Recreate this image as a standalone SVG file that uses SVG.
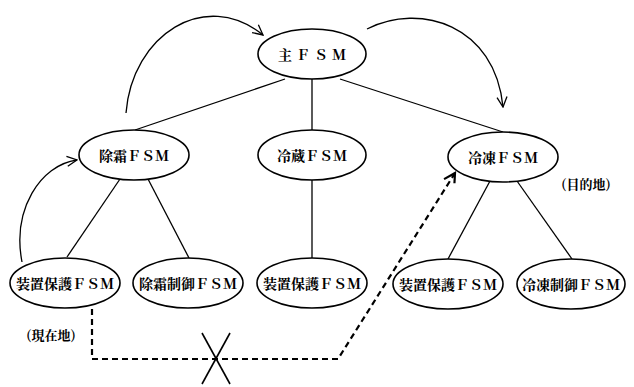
<svg xmlns="http://www.w3.org/2000/svg" width="634" height="387" viewBox="0 0 634 387">
<style>
.n ellipse{fill:#fff;stroke:#000;stroke-width:1.6}
text{font-family:"Noto Serif CJK JP","Noto Sans CJK JP",sans-serif;font-size:14px;font-weight:bold;fill:#000;text-anchor:middle;dominant-baseline:central}
.l{fill:none;stroke:#000;stroke-width:1.3}
.d{fill:none;stroke:#000;stroke-width:2.2;stroke-dasharray:6,4}
</style>
<defs>
<marker id="a" viewBox="0 0 12 12" refX="11" refY="6" markerWidth="12" markerHeight="12" markerUnits="userSpaceOnUse" orient="auto">
<path d="M1,1 L11,6 L1,11" fill="none" stroke="#000" stroke-width="1.3"/>
</marker>
<marker id="b" viewBox="0 0 14 14" refX="12" refY="7" markerWidth="14" markerHeight="14" markerUnits="userSpaceOnUse" orient="auto">
<path d="M1,1 L12,7 L3,12" fill="none" stroke="#000" stroke-width="2.2"/>
</marker>
</defs>
<g id="connectors">
<line class="l" x1="285" y1="79" x2="135" y2="130"/>
<line class="l" x1="312" y1="79" x2="312" y2="130"/>
<line class="l" x1="340" y1="79" x2="503" y2="132"/>
<line class="l" x1="120" y1="179" x2="67" y2="257"/>
<line class="l" x1="148" y1="179" x2="189" y2="258"/>
<line class="l" x1="312" y1="180" x2="312" y2="258"/>
<line class="l" x1="490" y1="181" x2="448" y2="259"/>
<line class="l" x1="517" y1="181" x2="572" y2="259"/>
<path class="l" d="M126,113 C132,35 205,-12 263,35" marker-end="url(#a)"/>
<path class="l" d="M367,29 C420,2 495,25 503,107" marker-end="url(#a)"/>
<path class="l" d="M22,262 C12,210 40,165 77,160" marker-end="url(#a)"/>
<path class="d" d="M92,309 L92,359 L338,359 L455,173" marker-end="url(#b)"/>
<line class="l" x1="202" y1="333" x2="230" y2="384" style="stroke-width:1.6"/>
<line class="l" x1="230" y1="333" x2="202" y2="384" style="stroke-width:1.6"/>
</g>
<g id="main" class="n"><ellipse cx="312" cy="54" rx="54" ry="25"/><text x="314" y="54" style="letter-spacing:4px">主ＦＳＭ</text></g>
<g id="defrost" class="n"><ellipse cx="134" cy="155" rx="55" ry="25"/><text x="134" y="155">除霜ＦＳＭ</text></g>
<g id="chill" class="n"><ellipse cx="312" cy="155" rx="54" ry="25"/><text x="312" y="155">冷蔵ＦＳＭ</text></g>
<g id="freeze" class="n"><ellipse cx="503" cy="157" rx="55" ry="25"/><text x="503" y="157">冷凍ＦＳＭ</text></g>
<g id="protect1" class="n"><ellipse cx="65" cy="283" rx="55" ry="25"/><text x="65" y="283">装置保護ＦＳＭ</text></g>
<g id="defrostctl" class="n"><ellipse cx="188" cy="283" rx="55" ry="25"/><text x="188" y="283">除霜制御ＦＳＭ</text></g>
<g id="protect2" class="n"><ellipse cx="312" cy="283" rx="55" ry="25"/><text x="312" y="283">装置保護ＦＳＭ</text></g>
<g id="protect3" class="n"><ellipse cx="448" cy="284" rx="55" ry="25"/><text x="448" y="284">装置保護ＦＳＭ</text></g>
<g id="freezectl" class="n"><ellipse cx="571" cy="284" rx="54" ry="25"/><text x="571" y="284">冷凍制御ＦＳＭ</text></g>
<g id="labels">
<text x="51" y="334" style="font-size:13px">(現在地)</text>
<text x="586" y="183" style="font-size:13px">(目的地)</text>
</g>
</svg>
